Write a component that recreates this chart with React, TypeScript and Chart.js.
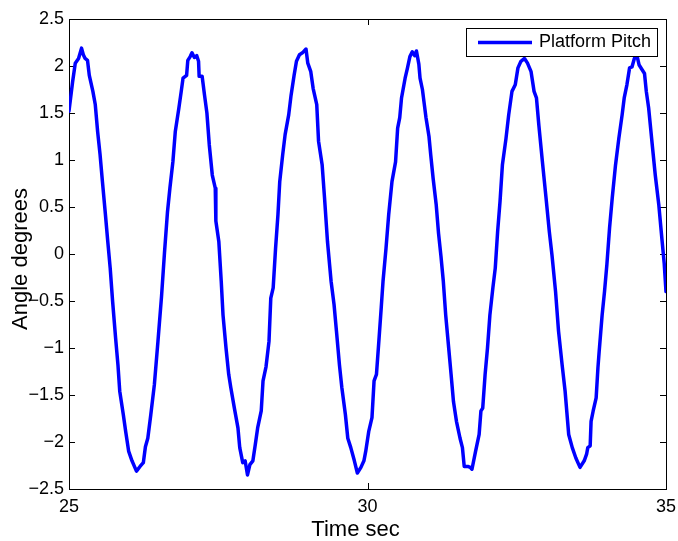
import React, { useEffect, useRef } from 'react';
import { Chart, registerables } from 'chart.js';

Chart.register(...registerables);

const timeSec = [
  25.0, 25.06, 25.105, 25.16, 25.21, 25.24, 25.27, 25.31, 25.34, 25.4, 25.44, 25.48, 25.52, 25.56, 25.61, 25.65, 25.69, 25.73, 25.78, 25.82, 25.85, 25.91, 25.95,
  26.0, 26.055, 26.13, 26.19, 26.245, 26.28, 26.32, 26.37, 26.43, 26.49, 26.55, 26.6, 26.65, 26.69, 26.74, 26.78, 26.84, 26.88, 26.91, 26.97, 26.99,
  27.03, 27.06, 27.1, 27.14, 27.17, 27.18, 27.23, 27.27, 27.31, 27.35, 27.4, 27.45, 27.46, 27.51, 27.55, 27.58, 27.63, 27.675, 27.71, 27.77, 27.83, 27.86, 27.91, 27.95, 27.99,
  28.03, 28.08, 28.12, 28.16, 28.22, 28.25, 28.3, 28.35, 28.38, 28.42, 28.46, 28.5, 28.53, 28.58, 28.62, 28.68, 28.72, 28.77, 28.81, 28.86, 28.91, 28.97,
  29.0, 29.05, 29.09, 29.15, 29.18, 29.24, 29.28, 29.33, 29.39, 29.44, 29.48, 29.53, 29.57, 29.63, 29.67, 29.72, 29.78, 29.83, 29.89, 29.94, 29.97,
  30.02, 30.075, 30.11, 30.15, 30.19, 30.23, 30.26, 30.31, 30.355, 30.41, 30.47, 30.505, 30.54, 30.57, 30.63, 30.67, 30.71, 30.75, 30.79, 30.82, 30.86, 30.88, 30.92, 30.95, 30.98,
  31.03, 31.06, 31.1, 31.15, 31.19, 31.23, 31.27, 31.31, 31.36, 31.4, 31.44, 31.49, 31.55, 31.59, 31.62, 31.68, 31.72, 31.75, 31.81, 31.87, 31.9, 31.93, 31.97,
  32.01, 32.05, 32.1, 32.14, 32.18, 32.22, 32.26, 32.32, 32.365, 32.42, 32.475, 32.52, 32.57, 32.63, 32.68, 32.74, 32.79, 32.83, 32.87, 32.93, 32.99,
  33.045, 33.09, 33.15, 33.2, 33.26, 33.31, 33.37, 33.43, 33.49, 33.56, 33.63, 33.67, 33.69, 33.73, 33.745, 33.78, 33.83, 33.86, 33.88, 33.93, 33.97,
  34.01, 34.055, 34.1, 34.155, 34.21, 34.265, 34.3, 34.345, 34.39, 34.43, 34.47, 34.51, 34.55, 34.6, 34.64, 34.67, 34.71, 34.77, 34.82, 34.88, 34.93, 34.97, 35.0,
];

const pitchDeg = [
  1.52, 1.83, 2.03, 2.08, 2.19, 2.12, 2.08, 2.06, 1.9, 1.73, 1.59, 1.3, 1.06, 0.77, 0.42, 0.13, -0.15, -0.5, -0.89, -1.18, -1.46, -1.71, -1.89,
  -2.1, -2.2, -2.31, -2.26, -2.22, -2.05, -1.96, -1.71, -1.39, -0.93, -0.45, 0.02, 0.45, 0.7, 0.98, 1.3, 1.55, 1.73, 1.87, 1.9, 2.06,
  2.1, 2.14, 2.09, 2.11, 2.05, 1.89, 1.89, 1.69, 1.5, 1.16, 0.84, 0.7, 0.35, 0.13, -0.29, -0.65, -1.0, -1.28, -1.42, -1.64, -1.85, -2.06, -2.22, -2.2, -2.35,
  -2.24, -2.2, -2.03, -1.85, -1.67, -1.35, -1.2, -0.93, -0.47, -0.36, 0.06, 0.42, 0.77, 1.06, 1.27, 1.48, 1.69, 1.9, 2.05, 2.12, 2.14, 2.18,
  2.03, 1.94, 1.76, 1.59, 1.2, 0.95, 0.6, 0.13, -0.29, -0.54, -0.82, -1.18, -1.42, -1.71, -1.96, -2.06, -2.2, -2.33, -2.27, -2.2, -2.1,
  -1.89, -1.74, -1.35, -1.28, -0.93, -0.57, -0.29, 0.06, 0.42, 0.77, 0.98, 1.34, 1.45, 1.66, 1.87, 1.98, 2.1, 2.15, 2.11, 2.16, 2.02, 1.87, 1.75, 1.6, 1.45,
  1.25, 1.05, 0.8, 0.53, 0.22, -0.02, -0.29, -0.65, -1.0, -1.28, -1.57, -1.78, -1.96, -2.06, -2.26, -2.26, -2.27, -2.29, -2.1, -1.92, -1.67, -1.64, -1.28,
  -1.0, -0.65, -0.36, -0.15, 0.24, 0.56, 0.95, 1.23, 1.48, 1.73, 1.8, 1.98, 2.05, 2.08, 2.03, 1.94, 1.73, 1.66, 1.37, 0.98, 0.6,
  0.24, -0.01, -0.4, -0.82, -1.18, -1.46, -1.92, -2.06, -2.17, -2.27, -2.2, -2.13, -2.06, -2.04, -1.78, -1.67, -1.53, -1.21, -1.04, -0.65, -0.4,
  -0.11, 0.28, 0.6, 0.95, 1.23, 1.48, 1.66, 1.8, 1.98, 1.99, 2.08, 2.12, 2.01, 1.96, 1.92, 1.73, 1.55, 1.16, 0.84, 0.52, 0.17, -0.1, -0.4,
];

const xTickValues = [25, 30, 35];
const yTickValues = [-2.5, -2, -1.5, -1, -0.5, 0, 0.5, 1, 1.5, 2, 2.5];
const seriesLabel = 'Platform Pitch';
const xTitle = 'Time sec';
const yTitle = 'Angle degrees';

const FONT = '"Liberation Sans", Arial, Helvetica, sans-serif';

function fmt(v: number): string {
  return v < 0 ? '\u2212' + String(Math.abs(v)) : String(v);
}

const matlabPlugin = {
  id: 'matlabFrame',
  beforeDatasetsDraw(chart: any) {
    const { ctx, chartArea: a, scales } = chart;
    ctx.save();
    ctx.strokeStyle = '#000';
    ctx.lineWidth = 1;
    ctx.strokeRect(Math.round(a.left) + 0.5, Math.round(a.top) + 0.5, Math.round(a.right - a.left), Math.round(a.bottom - a.top));
    const L = 6;
    ctx.beginPath();
    yTickValues.forEach((v) => {
      const y = Math.round(scales.y.getPixelForValue(v)) + 0.5;
      ctx.moveTo(a.left, y);
      ctx.lineTo(a.left + L, y);
      ctx.moveTo(a.right, y);
      ctx.lineTo(a.right - L, y);
    });
    xTickValues.forEach((v) => {
      const x = Math.round(scales.x.getPixelForValue(v)) + 0.5;
      ctx.moveTo(x, a.bottom);
      ctx.lineTo(x, a.bottom - L);
      ctx.moveTo(x, a.top);
      ctx.lineTo(x, a.top + L);
    });
    ctx.stroke();

    ctx.fillStyle = '#000';
    ctx.font = `22px ${FONT}`;
    ctx.textAlign = 'center';
    ctx.textBaseline = 'alphabetic';
    ctx.fillText(xTitle, (a.left + a.right) / 2 - 12, a.bottom + 47);
    ctx.save();
    ctx.translate(a.left - 42, (a.top + a.bottom) / 2 + 5);
    ctx.rotate(-Math.PI / 2);
    ctx.fillText(yTitle, 0, 0);
    ctx.restore();
    ctx.restore();
  },
  afterDatasetsDraw(chart: any) {
    const { ctx, chartArea: a } = chart;
    const ds = chart.data.datasets[0];
    ctx.save();
    ctx.font = `18px ${FONT}`;
    const tw = ctx.measureText(ds.label).width;
    const boxW = Math.round(12 + 54 + 7 + tw + 6);
    const boxH = 28;
    const right = Math.round(a.right - 9);
    const top = Math.round(a.top + 9);
    const left = right - boxW;
    ctx.fillStyle = '#fff';
    ctx.fillRect(left, top, boxW, boxH);
    ctx.strokeStyle = '#000';
    ctx.lineWidth = 1;
    ctx.strokeRect(left + 0.5, top + 0.5, boxW, boxH);
    const cy = top + boxH / 2 + 0.5;
    ctx.strokeStyle = ds.borderColor;
    ctx.lineWidth = ds.borderWidth;
    ctx.beginPath();
    ctx.moveTo(left + 12, cy);
    ctx.lineTo(left + 66, cy);
    ctx.stroke();
    ctx.fillStyle = '#000';
    ctx.textAlign = 'left';
    ctx.textBaseline = 'middle';
    ctx.fillText(ds.label, left + 73, cy);
    ctx.restore();
  },
};

export default function App() {
  const canvasRef = useRef<HTMLCanvasElement | null>(null);

  useEffect(() => {
    const canvas = canvasRef.current;
    if (!canvas) return;
    const points = timeSec.map((t, i) => ({ x: t, y: pitchDeg[i] }));
    const chart = new Chart(canvas, {
      type: 'line',
      data: {
        datasets: [
          {
            label: seriesLabel,
            data: points,
            borderColor: '#0000ff',
            borderWidth: 3.5,
            pointRadius: 0,
            tension: 0,
            fill: false,
            borderJoinStyle: 'round',
            borderCapStyle: 'round',
          },
        ],
      },
      options: {
        animation: false,
        responsive: false,
        devicePixelRatio: 1,
        layout: { padding: { top: 19, right: 12, left: 0, bottom: 0 } },
        plugins: { legend: { display: false }, tooltip: { enabled: false }, title: { display: false } },
        scales: {
          x: {
            type: 'linear',
            min: 25,
            max: 35,
            afterBuildTicks: (s: any) => {
              s.ticks = xTickValues.map((v) => ({ value: v }));
            },
            afterFit: (s: any) => {
              s.height = 52;
              s.paddingLeft = 0;
              s.paddingRight = 0;
            },
            ticks: {
              color: '#000',
              font: { family: FONT, size: 18 },
              padding: 7,
              maxRotation: 0,
              autoSkip: false,
              callback: (v: any) => fmt(Number(v)),
            },
            grid: { display: false, drawTicks: false },
            border: { display: false },
          },
          y: {
            type: 'linear',
            min: -2.5,
            max: 2.5,
            afterBuildTicks: (s: any) => {
              s.ticks = yTickValues.map((v) => ({ value: v }));
            },
            afterFit: (s: any) => {
              s.width = 69;
              s.paddingTop = 0;
              s.paddingBottom = 0;
            },
            ticks: {
              color: '#000',
              font: { family: FONT, size: 18 },
              padding: 5,
              autoSkip: false,
              callback: (v: any) => fmt(Number(v)),
            },
            grid: { display: false, drawTicks: false },
            border: { display: false },
          },
        },
      },
      plugins: [matlabPlugin],
    } as any);
    return () => {
      chart.destroy();
    };
  }, []);

  return (
    <div style={{ position: 'absolute', left: 0, top: 0, width: 678, height: 541, background: '#fff' }}>
      <canvas ref={canvasRef} width={678} height={541} style={{ display: 'block', width: 678, height: 541 }} />
    </div>
  );
}
